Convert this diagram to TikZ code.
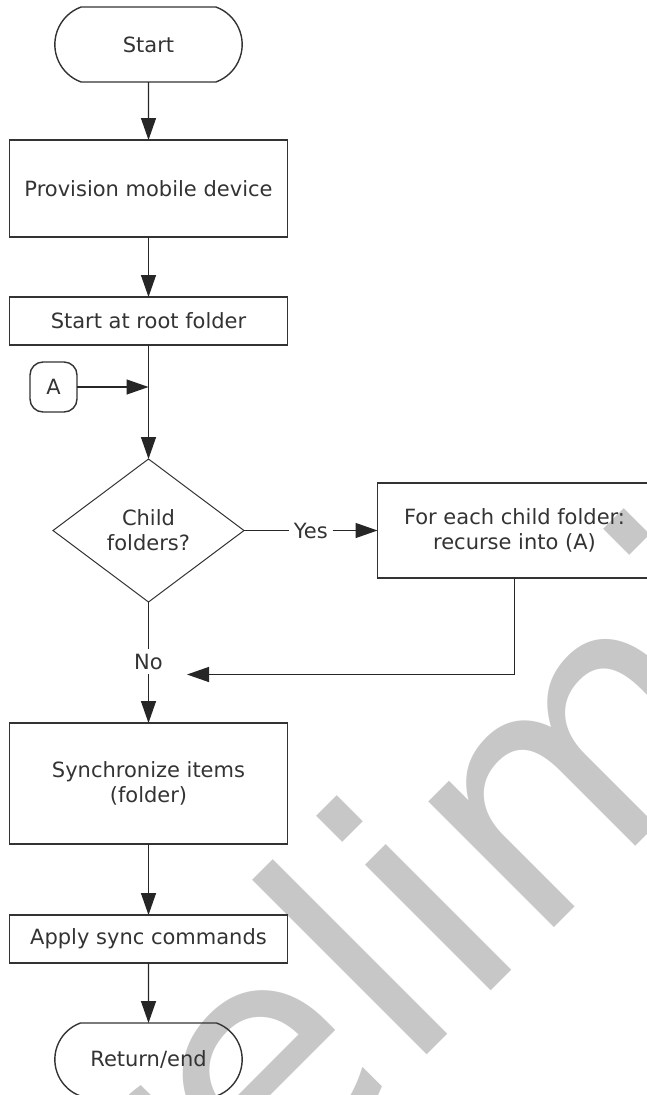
\documentclass[tikz,border=0pt]{standalone}
\usepackage{fontspec}
\setmainfont{DejaVu Sans}
\usetikzlibrary{arrows.meta}
\usetikzlibrary{positioning, shapes.geometric, shapes.misc, calc}

\begin{document}
\begin{tikzpicture}[x=1pt, y=1pt,
        font=\fontsize{21}{25}\selectfont, text=black!80,
        every node/.style={outer sep=0pt},
        box/.style={draw=black!80, line width=1.4pt, minimum width=278pt, inner sep=2pt, align=center},
        term/.style={draw=black!80, line width=1.4pt, rounded rectangle, rounded rectangle arc length=140, minimum width=194pt, minimum height=75pt},
        conn/.style={draw=black!80, line width=1.4pt, rounded corners=13pt, minimum width=47pt, minimum height=50pt},
        decision/.style={draw=black!80, line width=1pt, diamond, aspect=1.34, minimum width=191pt, minimum height=143pt, inner sep=0pt, align=center},
        lbl/.style={inner sep=5pt},
        link/.style={draw=black!85, line width=1.4pt},
        flow/.style={link, -{Triangle[length=22pt, width=15pt]}},
        wmark/.style={anchor=base west, rotate=45, inner sep=0pt, text=black!22, font=\fontsize{325}{390}\selectfont}]
        \useasboundingbox (0,0) rectangle (647,-1095);

        \node[wmark] (wm) at (40,-1442) {Preliminary};

        \node[term] (start) at (148.5,-44.5) {Start};
        \node[box, below=58pt of start, minimum height=97pt] (prov) {Provision mobile device};
        \node[box, below=60pt of prov, minimum height=48pt] (root) {Start at root folder};
        \node[conn] (A) at (53.5,-387) {A};
        \coordinate (merge) at (A -| root);
        \node[decision, below=114pt of root] (dec) {Child\\folders?};
        \node[box, right=133.5pt of dec, minimum width=274pt, minimum height=95pt] (each) {For each child folder:\\recurse into (A)};
        \node[lbl] (yes) at ($(dec.east)!0.5!(each.west)$) {Yes};
        \node[lbl] (no) at ($(dec.south)+(0,-59.5)$) {No};
        \coordinate (back) at ($(no)+(38.5,-13)$);
        \node[box, below=121pt of dec, minimum height=121pt] (sync) {Synchronize items\\(folder)};
        \node[box, below=71pt of sync, minimum height=48pt] (apply) {Apply sync commands};
        \node[term, below=60pt of apply, minimum height=73pt] (ret) {Return/end};

        \draw[flow] (start) -- (prov);
        \draw[flow] (prov) -- (root);
        \draw[flow] (root) -- (dec);
        \draw[flow] (A) -- (merge);
        \draw[link] (dec) -- (yes);
        \draw[flow] (yes) -- (each);
        \draw[link] (dec) -- (no);
        \draw[flow] (no) -- (sync);
        \draw[flow] (each.south) |- (back);
        \draw[flow] (sync) -- (apply);
        \draw[flow] (apply) -- (ret);
\end{tikzpicture}
\end{document}
